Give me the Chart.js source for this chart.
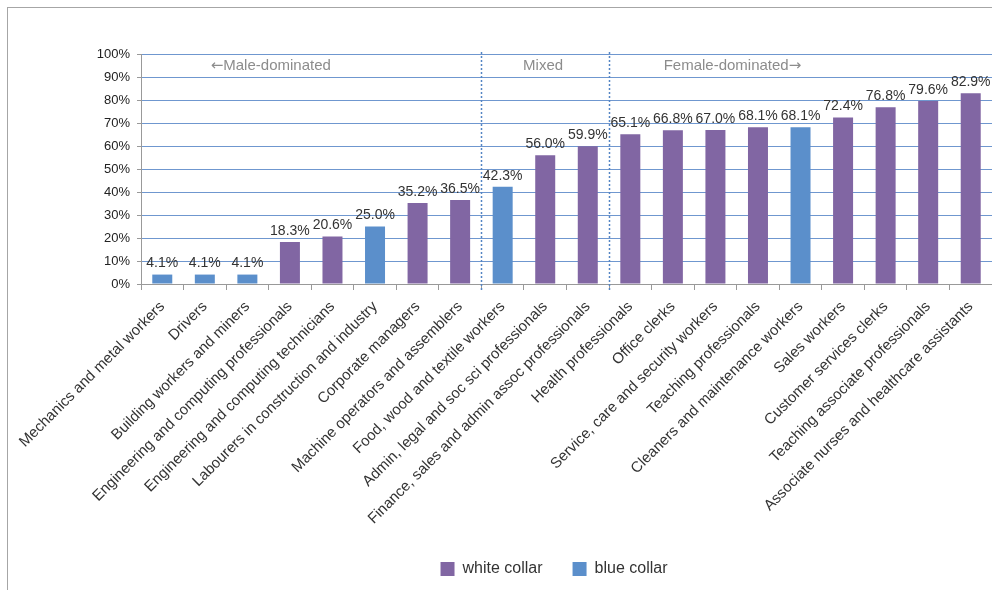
<!DOCTYPE html>
<html>
<head>
<meta charset="utf-8">
<script src="https://cdn.jsdelivr.net/npm/chart.js@4/dist/chart.umd.min.js"></script>
<style>
  html, body { margin: 0; padding: 0; background: #fff; }
  #frame { position: absolute; left: 7px; top: 7px; width: 1000px; height: 600px;
           border-left: 1px solid #a6a6a6; border-top: 1px solid #a6a6a6; }
  #wrap { position: absolute; left: 0; top: 0; width: 992px; height: 590px; }
</style>
</head>
<body>
<div id="frame"></div>
<div id="wrap"><canvas id="occChart" width="992" height="590"></canvas></div>
<script>
// Female share of employment by occupation
const occupations = [
    'Mechanics and metal workers',
    'Drivers',
    'Building workers and miners',
    'Engineering and computing professionals',
    'Engineering and computing technicians',
    'Labourers in construction and industry',
    'Corporate managers',
    'Machine operators and assemblers',
    'Food, wood and textile workers',
    'Admin, legal and soc sci professionals',
    'Finance, sales and admin assoc professionals',
    'Health professionals',
    'Office clerks',
    'Service, care and security workers',
    'Teaching professionals',
    'Cleaners and maintenance workers',
    'Sales workers',
    'Customer services clerks',
    'Teaching associate professionals',
    'Associate nurses and healthcare assistants'
];
const femaleShare = [4.1, 4.1, 4.1, 18.3, 20.6, 25.0, 35.2, 36.5, 42.3, 56.0,
                     59.9, 65.1, 66.8, 67.0, 68.1, 68.1, 72.4, 76.8, 79.6, 82.9];
const collar = ['blue', 'blue', 'blue', 'white', 'white', 'blue', 'white', 'white', 'blue', 'white',
                'white', 'white', 'white', 'white', 'white', 'blue', 'white', 'white', 'white', 'white'];
const yTicks = [0, 10, 20, 30, 40, 50, 60, 70, 80, 90, 100];

// groups along the axis: label parts, centre (category units) and the boundaries between them
const groups = [
    { parts: ['\u2190', 'Male-dominated'], at: 2.55 },
    { parts: ['', 'Mixed'], at: 8.95 },
    { parts: ['', 'Female-dominated', '\u2192'], at: 13.4 }
];
const boundaries = [7.5, 10.5];

const PURPLE = '#8166a3';
const BLUE = '#5b8fcb';
const FONT = "'Liberation Sans', Arial, sans-serif";
const ARROW_FONT = "'DejaVu Sans', sans-serif";

const whiteVals = femaleShare.map((v, i) => collar[i] === 'white' ? v : null);
const blueVals = femaleShare.map((v, i) => collar[i] === 'blue' ? v : null);

const valueLabels = {
    id: 'valueLabels',
    afterDatasetsDraw(chart) {
        const ctx = chart.ctx;
        ctx.save();
        ctx.font = '14px ' + FONT;
        ctx.fillStyle = '#333';
        ctx.textAlign = 'center';
        ctx.textBaseline = 'bottom';
        chart.data.datasets.forEach((ds, di) => {
            chart.getDatasetMeta(di).data.forEach((bar, i) => {
                const v = ds.data[i];
                if (v === null) return;
                ctx.fillText(v.toFixed(1) + '%', bar.x, bar.y - 4);
            });
        });
        ctx.restore();
    }
};

const groupMarks = {
    id: 'groupMarks',
    afterDraw(chart) {
        const ctx = chart.ctx;
        const x = chart.scales.x, y = chart.scales.y;
        ctx.save();
        ctx.strokeStyle = '#5485c4';
        ctx.lineWidth = 1.5;
        ctx.setLineDash([2, 2]);
        boundaries.forEach(b => {
            const px = Math.round(x.getPixelForValue(b)) + 0.5;
            ctx.beginPath();
            ctx.moveTo(px, y.top - 2);
            ctx.lineTo(px, y.bottom + 8);
            ctx.stroke();
        });
        ctx.setLineDash([]);
        ctx.fillStyle = '#8c8c8c';
        ctx.textAlign = 'left';
        ctx.textBaseline = 'middle';
        const cy = y.getPixelForValue(94.8);
        groups.forEach(g => {
            // arrows come from a font that carries full-size arrow glyphs
            const fonts = g.parts.map(p => (p === '\u2190' || p === '\u2192' ? '15px ' + ARROW_FONT : '15px ' + FONT));
            const widths = g.parts.map((p, i) => { ctx.font = fonts[i]; return ctx.measureText(p).width; });
            let cx = x.getPixelForValue(g.at) - widths.reduce((a, b) => a + b, 0) / 2;
            g.parts.forEach((p, i) => {
                ctx.font = fonts[i];
                ctx.fillText(p, cx, cy);
                cx += widths[i];
            });
        });
        ctx.restore();
    }
};

// the legend sits a little right of the canvas centre
const legendShift = {
    id: 'legendShift',
    afterLayout(chart) {
        chart.legend.left += 58;
        chart.legend.right += 58;
    }
};

new Chart(document.getElementById('occChart'), {
    type: 'bar',
    data: {
        labels: occupations,
        datasets: [
            { label: 'white collar', data: whiteVals, backgroundColor: PURPLE },
            { label: 'blue collar', data: blueVals, backgroundColor: BLUE }
        ]
    },
    options: {
        responsive: false,
        animation: false,
        barPercentage: 0.47,
        categoryPercentage: 1,
        layout: { padding: { top: 54, right: 0, bottom: 3, left: 0 } },
        plugins: {
            legend: {
                position: 'bottom',
                labels: {
                    boxWidth: 14, boxHeight: 14, padding: 30,
                    color: '#333', font: { family: FONT, size: 16 }
                }
            },
            tooltip: { enabled: false }
        },
        scales: {
            x: {
                stacked: true,
                border: { color: '#999' },
                grid: { display: true, drawOnChartArea: false, offset: true, tickLength: 6, color: '#999' },
                ticks: {
                    autoSkip: false, minRotation: 45, maxRotation: 45, padding: 8,
                    color: '#333', font: { family: FONT, size: 15 }
                },
                afterFit(scale) {
                    scale.height = 247;
                    scale.paddingLeft = 0;
                    scale.paddingRight = 0;
                }
            },
            y: {
                stacked: true,
                min: 0, max: 100,
                afterBuildTicks(scale) { scale.ticks = yTicks.map(v => ({ value: v })); },
                border: { color: '#999' },
                grid: {
                    color: c => c.tick && c.tick.value === 0 ? 'rgba(0,0,0,0)' : '#6f97cf',
                    tickColor: '#999', tickLength: 4
                },
                ticks: {
                    padding: 7, color: '#222',
                    font: { family: FONT, size: 13 },
                    callback: v => v + '%'
                },
                afterFit(scale) { scale.width = 141; }
            }
        }
    },
    plugins: [valueLabels, groupMarks, legendShift]
});
</script>
</body>
</html>
